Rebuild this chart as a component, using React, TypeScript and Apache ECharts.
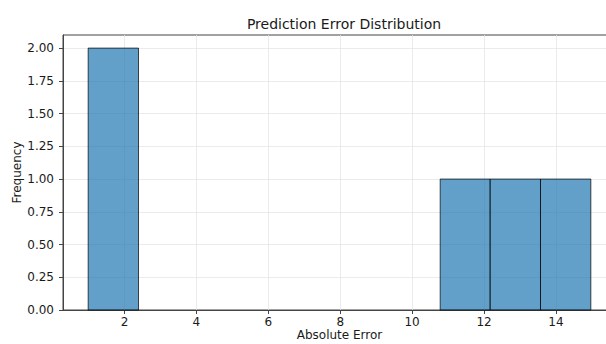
import React, { useEffect, useRef } from "react";
import * as echarts from "echarts";

// Histogram bin edges (11 edges -> 10 bins) and counts
const binEdges = [0.99, 2.39, 3.79, 5.18, 6.58, 7.98, 9.38, 10.78, 12.17, 13.57, 14.97];
const counts = [2, 0, 0, 0, 0, 0, 0, 1, 1, 1];
const xTicks = [2, 4, 6, 8, 10, 12, 14];
const yTicks = [0, 0.25, 0.5, 0.75, 1.0, 1.25, 1.5, 1.75, 2.0];

const FONT = "DejaVu Sans";

export default function App() {
  const ref = useRef<HTMLDivElement>(null);

  useEffect(() => {
    if (!ref.current) return;
    const chart = echarts.init(ref.current, undefined, { renderer: "svg" });

    const barData = counts.map((c, i) => [binEdges[i], binEdges[i + 1], c]);

    chart.setOption({
      animation: false,
      backgroundColor: "#ffffff",
      title: {
        text: "Prediction Error Distribution",
        left: 339,
        textAlign: "center",
        top: 12,
        textStyle: { fontFamily: FONT, fontSize: 14, fontWeight: "normal", color: "#1a1a1a" },
      },
      grid: {
        left: 63,
        top: 35,
        width: 553,
        height: 275,
        outerBoundsMode: "none",
        containLabel: false,
        show: true,
        borderColor: "#444",
        borderWidth: 1,
        backgroundColor: "transparent",
      },
      xAxis: {
        type: "value",
        min: 0.29,
        max: 15.67,
        name: "Absolute Error",
        nameLocation: "middle",
        nameGap: 19,
        nameMoveOverlap: false,
        nameTextStyle: { fontFamily: FONT, fontSize: 12, color: "#1a1a1a" },
        axisLine: { show: true, lineStyle: { color: "#444", width: 1 } },
        axisTick: { show: true, length: 4, lineStyle: { color: "#444" }, customValues: xTicks },
        axisLabel: {
          customValues: xTicks,
          margin: 6,
          fontFamily: FONT,
          fontSize: 12,
          color: "#1a1a1a",
          formatter: (v: number) => String(v),
        },
        splitLine: { show: true, lineStyle: { color: "#e6e6e6", width: 0.8 } },
      },
      yAxis: {
        type: "value",
        min: 0,
        max: 2.1,
        name: "Frequency",
        nameLocation: "middle",
        nameRotate: 90,
        nameGap: 40,
        nameMoveOverlap: false,
        nameTextStyle: { fontFamily: FONT, fontSize: 12, color: "#1a1a1a" },
        axisLine: { show: true, lineStyle: { color: "#444", width: 1 } },
        axisTick: { show: true, length: 4, lineStyle: { color: "#444" }, customValues: yTicks },
        axisLabel: {
          customValues: yTicks,
          margin: 9,
          fontFamily: FONT,
          fontSize: 12,
          color: "#1a1a1a",
          formatter: (v: number) => v.toFixed(2),
        },
        splitLine: { show: true, lineStyle: { color: "#e6e6e6", width: 0.8 } },
      },
      series: [
        {
          type: "custom",
          data: barData,
          encode: { x: [0, 1], y: 2 },
          renderItem: (params: any, api: any) => {
            const x0 = api.value(0);
            const x1 = api.value(1);
            const c = api.value(2);
            if (!c) return null;
            const p0 = api.coord([x0, c]);
            const p1 = api.coord([x1, 0]);
            return {
              type: "rect",
              shape: { x: p0[0], y: p0[1], width: p1[0] - p0[0], height: p1[1] - p0[1] },
              style: {
                fill: "rgba(31,119,180,0.7)",
                stroke: "rgba(0,0,0,0.7)",
                lineWidth: 1,
              },
            };
          },
        },
      ],
    });

    return () => chart.dispose();
  }, []);

  return (
    <div
      ref={ref}
      style={{ position: "fixed", left: 0, top: 0, width: 606, height: 344 }}
    />
  );
}
